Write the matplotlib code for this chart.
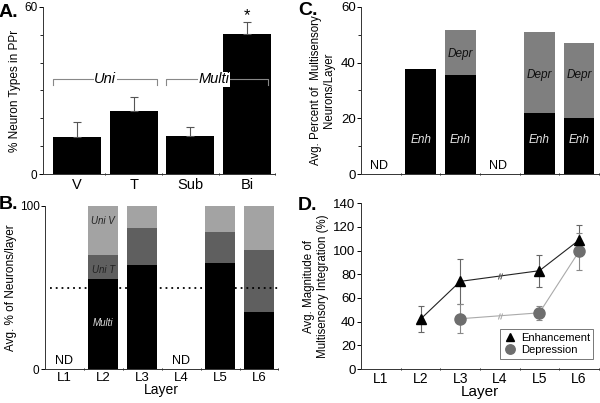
import matplotlib
matplotlib.use('Agg')
import matplotlib.pyplot as plt
from matplotlib.ticker import MultipleLocator

plt.rcParams['font.family'] = ['Liberation Sans', 'DejaVu Sans']

# Panel A
types = ['V', 'T', 'Sub', 'Bi']
type_pct = [13.4, 22.7, 13.6, 50.1]
type_err = [5.4, 4.8, 3.4, 4.3]

# Panel B
layers = ['L1', 'L2', 'L3', 'L4', 'L5', 'L6']
layer_x = [1, 2, 3, 4, 5, 6]
multi = [0, 55.2, 63.8, 0, 65.0, 35.2]
uni_t = [0, 14.7, 22.5, 0, 19.3, 37.6]
uni_v = [0, 30.1, 13.7, 0, 15.7, 27.2]
nd_layers = [1, 4]

# Panel C
enh_pct = [0, 37.8, 35.4, 0, 22.0, 20.3]
depr_pct = [0, 0, 16.2, 0, 28.8, 26.9]

# Panel D
enh_x = [2, 3, 5, 6]
enh_mag = [42.2, 74.0, 83.0, 108.8]
enh_err = [11.2, 19.0, 13.5, 13.0]
depr_x = [3, 5, 6]
depr_mag = [42.5, 47.5, 99.2]
depr_err = [12.2, 6.0, 16.0]

fig = plt.figure(figsize=(6, 4.03), dpi=100)

bounds = [1.5, 2.5, 3.5, 4.5, 5.5, 6.5]


def style_axes(ax):
    for s in ['top', 'right']:
        ax.spines[s].set_visible(False)
    for s in ['left', 'bottom']:
        ax.spines[s].set_linewidth(0.7)
        ax.spines[s].set_color('#333333')


def layer_xaxis(ax, labels=True, size=10):
    # small ticks between layers, labels centred on the layers
    ax.set_xlim(0.5, 6.5)
    ax.set_xticks(bounds)
    ax.set_xticklabels([])
    ax.tick_params(axis='x', which='major', length=2, width=0.6, direction='inout')
    if labels:
        ax.set_xticks(layer_x, minor=True)
        ax.set_xticklabels(layers, minor=True, fontsize=size)
        ax.tick_params(axis='x', which='minor', length=0, pad=2)


# ---------- A ----------
axA = fig.add_axes([0.0717, 0.568, 0.387, 0.415])
style_axes(axA)
axA.bar(range(4), type_pct, width=0.85, color='black', zorder=2)
axA.errorbar(range(4), type_pct, yerr=[[0] * 4, type_err], fmt='none',
             ecolor='#555555', elinewidth=0.8, capsize=3, capthick=0.8)
axA.set_xlim(-0.6, 3.5)
axA.set_ylim(0, 60)
axA.set_yticks([0, 60])
axA.yaxis.set_minor_locator(MultipleLocator(10))
axA.tick_params(axis='y', which='minor', length=2, width=0.6)
axA.tick_params(axis='y', which='major', labelsize=8.5, length=3, width=0.7, pad=1)
axA.set_xticks([0.5, 1.5, 2.5, 3.5])
axA.set_xticklabels([])
axA.set_xticks(range(4), minor=True)
axA.set_xticklabels(types, minor=True, fontsize=10.5)
axA.tick_params(axis='x', which='minor', length=0, pad=3)
axA.tick_params(axis='x', which='major', length=2, width=0.6, direction='inout')
axA.set_ylabel('% Neuron Types in PPr', fontsize=8.5, labelpad=2)
axA.text(3, 57, '*', ha='center', va='center', fontsize=12)
# brackets
for (x0, x1, lab, lx) in [(-0.42, 1.42, 'Uni', 0.5), (1.58, 3.38, 'Multi', 2.42)]:
    axA.plot([x0, x0, x1, x1], [32, 34, 34, 32], color='#888888', lw=0.8, zorder=3)
    axA.text(lx, 34, lab, ha='center', va='center', fontsize=10.5, style='italic',
             zorder=4, bbox=dict(facecolor='white', edgecolor='none', pad=0.3))
fig.text(-0.002, 0.99, 'A.', fontsize=14, fontweight='bold', va='top')

# ---------- B ----------
axB = fig.add_axes([0.075, 0.084, 0.389, 0.405])
style_axes(axB)
w = 0.77
axB.bar(layer_x, multi, width=w, color='black')
axB.bar(layer_x, uni_t, width=w, bottom=multi, color='#5f5f5f')
bot2 = [m + t for m, t in zip(multi, uni_t)]
axB.bar(layer_x, uni_v, width=w, bottom=bot2, color='#a3a3a3')
axB.axhline(50, xmin=0.02, color='black', lw=1.3, ls=(0, (1, 2.2)))
layer_xaxis(axB, size=9.5)
axB.set_ylim(0, 100)
axB.set_yticks([0, 100])
axB.tick_params(axis='y', labelsize=8.5, length=3, width=0.7, pad=1)
axB.set_ylabel('Avg. % of Neurons/layer', fontsize=8.5, labelpad=2)
axB.set_xlabel('Layer', fontsize=10, labelpad=-1)
axB.text(2, 91, 'Uni V', ha='center', va='center', fontsize=7, style='italic', color='#222222')
axB.text(2, 61, 'Uni T', ha='center', va='center', fontsize=7, style='italic', color='#222222')
axB.text(2, 28, 'Multi', ha='center', va='center', fontsize=7, style='italic', color='#dddddd')
for x in nd_layers:
    axB.text(x, 5, 'ND', ha='center', va='center', fontsize=9)
fig.text(-0.002, 0.513, 'B.', fontsize=14, fontweight='bold', va='top')

# ---------- C ----------
axC = fig.add_axes([0.602, 0.568, 0.396, 0.415])
style_axes(axC)
axC.bar(layer_x, enh_pct, width=0.78, color='black')
axC.bar(layer_x, depr_pct, width=0.78, bottom=enh_pct, color='#7f7f7f')
layer_xaxis(axC, labels=False)
axC.set_ylim(0, 60)
axC.set_yticks([0, 20, 40, 60])
axC.yaxis.set_minor_locator(MultipleLocator(10))
axC.tick_params(axis='y', which='minor', length=2, width=0.6)
axC.tick_params(axis='y', which='major', labelsize=9.5, length=3, width=0.7, pad=1)
axC.set_ylabel('Avg. Percent of  Multisensory\nNeurons/Layer', fontsize=8.3, labelpad=4)
for x, e, d in zip(layer_x, enh_pct, depr_pct):
    if e > 0:
        axC.text(x, 12.2, 'Enh', ha='center', va='center', fontsize=8.5,
                 style='italic', color='#e6e6e6')
    if d > 0:
        axC.text(x, e + d - 8.5 if x == 3 else 35.5, 'Depr', ha='center', va='center',
                 fontsize=8.5, style='italic', color='#111111')
    if e == 0 and d == 0:
        axC.text(x - 0.05, 3, 'ND', ha='center', va='center', fontsize=9)
fig.text(0.497, 0.995, 'C.', fontsize=14, fontweight='bold', va='top')

# ---------- D ----------
axD = fig.add_axes([0.602, 0.084, 0.396, 0.412])
style_axes(axD)
axD.errorbar(enh_x, enh_mag, yerr=enh_err, fmt='none', ecolor='#666666',
             elinewidth=0.8, capsize=2.5, capthick=0.8, zorder=1)
axD.errorbar(depr_x, depr_mag, yerr=depr_err, fmt='none', ecolor='#888888',
             elinewidth=0.8, capsize=2.5, capthick=0.8, zorder=1)
axD.plot(depr_x, depr_mag, color='#aaaaaa', lw=0.8, zorder=2)
axD.plot(enh_x, enh_mag, color='#222222', lw=0.8, zorder=2)
axD.plot(depr_x, depr_mag, 'o', color='#6e6e6e', ms=8, zorder=3, label='Depression')
axD.plot(enh_x, enh_mag, '^', color='black', ms=7, zorder=4, label='Enhancement')
# break marks at L4 where no data exist
for xs, ys, c in [(enh_x, enh_mag, '#555555'), (depr_x, depr_mag, '#aaaaaa')]:
    ym = (ys[xs.index(3)] + ys[xs.index(5)]) / 2
    axD.plot(4, ym, marker=r'$//$', ms=4, color=c, mec=c, mew=0.3, zorder=3)
layer_xaxis(axD, size=10)
axD.set_ylim(0, 140)
axD.set_yticks(range(0, 141, 20))
axD.tick_params(axis='y', labelsize=9.5, length=3, width=0.7, pad=1)
axD.set_xlabel('Layer', fontsize=11, labelpad=-1)
axD.set_ylabel('Avg. Magnitude of\nMultisensory Integration (%)', fontsize=8.3, labelpad=3)
h, l = axD.get_legend_handles_labels()
leg = axD.legend(h[::-1], l[::-1], loc='lower right', fontsize=8, frameon=True,
                 fancybox=False, edgecolor='#555555', borderpad=0.3,
                 handletextpad=0.4, labelspacing=0.25, handlelength=1.2,
                 markerscale=0.85, bbox_to_anchor=(1.0, 0.03))
leg.get_frame().set_linewidth(0.7)
fig.text(0.497, 0.51, 'D.', fontsize=14, fontweight='bold', va='top')

fig.savefig('out.png', dpi=100)
